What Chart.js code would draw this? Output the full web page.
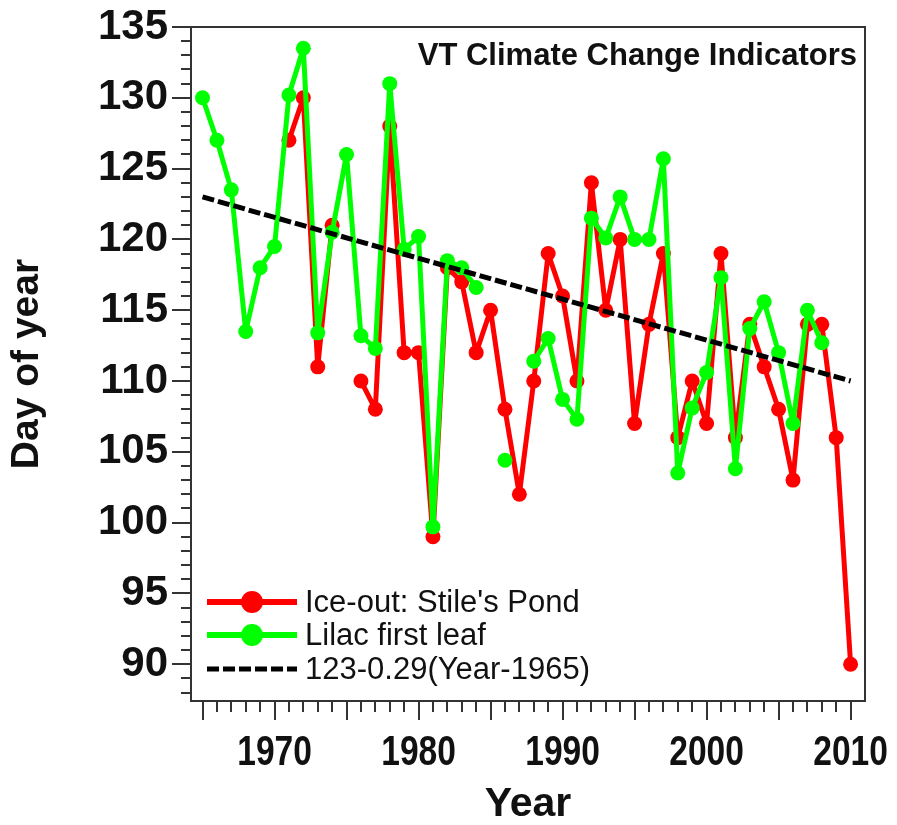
<!DOCTYPE html>
<html>
<head>
<meta charset="utf-8">
<script src="https://cdn.jsdelivr.net/npm/chart.js@4.4.1/dist/chart.umd.min.js"></script>
<style>
  html, body { margin: 0; padding: 0; background: #fff; }
  #wrap { width: 897px; height: 825px; position: relative; }
</style>
</head>
<body>
<div id="wrap"><canvas id="myChart"></canvas></div>
<script>
// years 1965 .. 2010
const years = [1965, 1966, 1967, 1968, 1969, 1970, 1971, 1972, 1973, 1974,
               1975, 1976, 1977, 1978, 1979, 1980, 1981, 1982, 1983, 1984,
               1985, 1986, 1987, 1988, 1989, 1990, 1991, 1992, 1993, 1994,
               1995, 1996, 1997, 1998, 1999, 2000, 2001, 2002, 2003, 2004,
               2005, 2006, 2007, 2008, 2009, 2010];

// Ice-out day at Stile's Pond (null = no record)
const iceOut = [null, null, null, null, null, null, 127, 130, 111, 121,
                null, 110, 108, 128, 112, 112, 99, 118, 117, 112,
                115, 108, 102, 110, 119, 116, 110, 124, 115, 120,
                107, 114, 119, 106, 110, 107, 119, 106, 114, 111,
                108, 103, 114, 114, 106, 90];

// Lilac first leaf day
const lilacLeaf = [130, 127, 123.5, 113.5, 118, 119.5, 130.2, 133.5, 113.4, 120.5,
                   126, 113.2, 112.3, 131, 119.3, 120.2, 99.7, 118.5, 118, 116.6,
                   null, 104.4, null, 111.4, 113, 108.7, 107.3, 121.5, 120.1, 123,
                   120, 120, 125.7, 103.5, 108.1, 110.6, 117.3, 103.8, 113.7, 115.6,
                   112, 107, 115, 112.7, null, null];

// trend line end points
const trendYears = [1965, 2010];
const trendDays = [123, 110];

const yearTicks = [1970, 1980, 1990, 2000, 2010];
const dayTicks = [90, 95, 100, 105, 110, 115, 120, 125, 130, 135];

const RED = '#ff0000';
const GREEN = '#00ff00';
const FONT = '"Liberation Sans", Arial, sans-serif';

function pairs(xs, ys) {
    return xs.map((x, i) => ({ x: x, y: ys[i] }));
}

// box round the plot, tick marks on the outside, condensed year labels, title
const axisBox = {
    id: 'axisBox',
    afterDraw(chart) {
        const { ctx, chartArea: a, scales: { x, y } } = chart;
        ctx.save();
        ctx.strokeStyle = '#333';
        ctx.lineWidth = 2;
        ctx.strokeRect(a.left, a.top, a.right - a.left, a.bottom - a.top);
        ctx.beginPath();
        for (let v = 88; v <= 135; v++) {
            const py = Math.round(y.getPixelForValue(v));
            const len = v % 5 === 0 ? 19 : 10;
            ctx.moveTo(a.left - len, py);
            ctx.lineTo(a.left, py);
        }
        for (let yr = 1965; yr <= 2010; yr++) {
            const px = Math.round(x.getPixelForValue(yr));
            const len = yr % 5 === 0 ? 19 : 11;
            ctx.moveTo(px, a.bottom);
            ctx.lineTo(px, a.bottom + len);
        }
        ctx.stroke();

        // year labels, narrow bold like the original
        ctx.fillStyle = '#111';
        ctx.font = 'bold 43px ' + FONT;
        ctx.textAlign = 'center';
        ctx.textBaseline = 'middle';
        yearTicks.forEach(yr => {
            const px = x.getPixelForValue(yr);
            ctx.save();
            ctx.translate(px, a.bottom + 52);
            ctx.scale(0.78, 1);
            ctx.fillText(String(yr), 0, 0);
            ctx.restore();
        });

        // title inside the plot, top right
        ctx.font = 'bold 31px ' + FONT;
        ctx.textAlign = 'right';
        ctx.fillText('VT Climate Change Indicators', a.right - 8, 56);
        ctx.restore();
    }
};

// legend: line sample with marker, bottom left in the plot
const lineLegend = {
    id: 'lineLegend',
    afterDraw(chart) {
        const { ctx } = chart;
        const x0 = 207, x1 = 297, rows = [602, 635, 669];
        ctx.save();
        chart.data.datasets.forEach((ds, i) => {
            const y = rows[i];
            ctx.strokeStyle = ds.borderColor;
            ctx.lineWidth = ds.borderDash ? 5 : 6;
            ctx.setLineDash(ds.borderDash || []);
            ctx.beginPath();
            ctx.moveTo(x0, y);
            ctx.lineTo(x1, y);
            ctx.stroke();
            ctx.setLineDash([]);
            if (ds.pointRadius > 0) {
                ctx.fillStyle = ds.borderColor;
                ctx.beginPath();
                ctx.arc((x0 + x1) / 2, y, 11, 0, Math.PI * 2);
                ctx.fill();
            }
            ctx.fillStyle = '#111';
            ctx.font = '31px ' + FONT;
            ctx.textAlign = 'left';
            ctx.textBaseline = 'middle';
            ctx.fillText(ds.label, 305, y + 1);
        });
        ctx.restore();
    }
};

const ctx = document.getElementById('myChart').getContext('2d');
const myChart = new Chart(ctx, {
    type: 'line',
    data: {
        datasets: [{
            label: "Ice-out: Stile's Pond",
            data: pairs(years, iceOut),
            borderColor: RED,
            backgroundColor: RED,
            borderWidth: 5,
            borderJoinStyle: 'round',
            pointRadius: 7.5,
            pointBorderWidth: 0,
            pointBackgroundColor: RED,
            spanGaps: false,
            order: 3
        }, {
            label: 'Lilac first leaf',
            data: pairs(years, lilacLeaf),
            borderColor: GREEN,
            backgroundColor: GREEN,
            borderWidth: 5,
            borderJoinStyle: 'round',
            pointRadius: 7.5,
            pointBorderWidth: 0,
            pointBackgroundColor: GREEN,
            spanGaps: false,
            order: 2
        }, {
            label: '123-0.29(Year-1965)',
            data: pairs(trendYears, trendDays),
            borderColor: '#000',
            borderWidth: 5,
            borderDash: [12, 4],
            pointRadius: 0,
            order: 1
        }]
    },
    options: {
        responsive: true,
        maintainAspectRatio: false,
        animation: false,
        layout: { padding: { left: 0, right: 32, top: 27, bottom: 0 } },
        plugins: {
            legend: { display: false },
            tooltip: { enabled: false }
        },
        scales: {
            x: {
                type: 'linear',
                min: 1964.2,
                max: 2011,
                afterBuildTicks: (scale) => { scale.ticks = yearTicks.map(v => ({ value: v })); },
                afterFit: (scale) => { scale.height = 124; scale.paddingLeft = 0; scale.paddingRight = 0; },
                grid: { display: false, drawTicks: false },
                border: { display: false },
                ticks: { display: false },
                title: {
                    display: true,
                    text: 'Year',
                    color: '#111',
                    padding: { top: 0, bottom: 0 },
                    font: { family: FONT, size: 41, weight: 'bold', lineHeight: 1 }
                }
            },
            y: {
                min: 87.4,
                max: 135,
                afterBuildTicks: (scale) => { scale.ticks = dayTicks.map(v => ({ value: v })); },
                afterFit: (scale) => { scale.width = 191; scale.paddingTop = 0; scale.paddingBottom = 0; },
                grid: { display: false, drawTicks: false },
                border: { display: false },
                ticks: {
                    padding: 23,
                    color: '#111',
                    font: { family: FONT, size: 42, weight: 'bold' }
                },
                title: {
                    display: true,
                    text: 'Day of year',
                    color: '#111',
                    padding: { top: 8, bottom: 0 },
                    font: { family: FONT, size: 39, weight: 'bold', lineHeight: 1 }
                }
            }
        }
    },
    plugins: [axisBox, lineLegend]
});
</script>
</body>
</html>
